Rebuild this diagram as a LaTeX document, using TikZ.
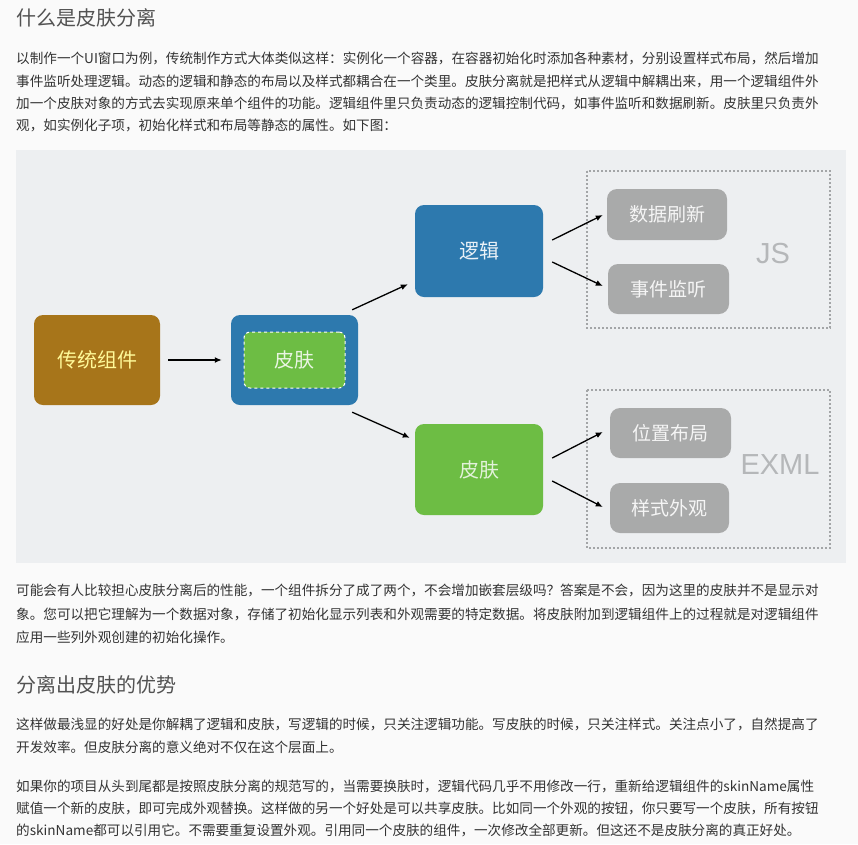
\documentclass[tikz,border=0pt]{standalone}
\usepackage{fontspec}
\setmainfont{Noto Sans CJK SC}
\newfontfamily\latinsans{Liberation Sans}
\usetikzlibrary{arrows.meta}

\definecolor{pagebg}{HTML}{FAFAFA}
\definecolor{figbg}{HTML}{EDEFF1}
\definecolor{txt}{HTML}{333333}
\definecolor{brown}{HTML}{A7751A}
\definecolor{skinblue}{HTML}{2D79AE}
\definecolor{skingreen}{HTML}{6DBD44}
\definecolor{itemgrey}{HTML}{A9AAAA}
\definecolor{framegrey}{HTML}{A3A5A7}

\tikzset{
  line/.style={anchor=west,text=txt,font=\fontsize{13.6}{16}\selectfont,inner sep=0pt},
  heading/.style={anchor=west,text=txt!85!white,font=\fontsize{20}{24}\selectfont,inner sep=0pt},
  block/.style={rounded corners=9pt,font=\fontsize{20}{24}\selectfont,inner sep=0pt},
  item/.style={rounded corners=10pt,fill=itemgrey,text=white!92!gray,font=\fontsize{19}{22}\selectfont,inner sep=0pt},
  tag/.style={text=framegrey!80!white,font=\latinsans\fontsize{29}{32}\selectfont},
  group/.style={draw=framegrey,dash pattern=on 2pt off 2pt,line width=1.6pt},
  link/.style={-{Latex[length=7pt,width=6pt]},line width=1.3pt,black}
}

\begin{document}
\begin{tikzpicture}[x=1pt,y=-1pt]
  \fill[pagebg] (0,0) rectangle (858,844);

  % top text
  \node[heading] (t1) at (16,18) {什么是皮肤分离};
  \node[line] (p1a) at (16,58) {以制作一个UI窗口为例，传统制作方式大体类似这样：实例化一个容器，在容器初始化时添加各种素材，分别设置样式布局，然后增加};
  \node[line] (p1b) at (16,81) {事件监听处理逻辑。动态的逻辑和静态的布局以及样式都耦合在一个类里。皮肤分离就是把样式从逻辑中解耦出来，用一个逻辑组件外};
  \node[line] (p1c) at (16,103) {加一个皮肤对象的方式去实现原来单个组件的功能。逻辑组件里只负责动态的逻辑控制代码，如事件监听和数据刷新。皮肤里只负责外};
  \node[line] (p1d) at (16,125) {观，如实例化子项，初始化样式和布局等静态的属性。如下图：};

  % figure
  \fill[figbg] (16,150) rectangle (846,563);

  \node[block,fill=brown,text=yellow!40!white,minimum width=126pt,minimum height=90pt] (old) at (97,360) {传统组件};
  \node[block,fill=skinblue,minimum width=127pt,minimum height=90pt] (skinbox) at (294.5,360) {};
  \node[block,fill=skingreen,draw=white,dashed,line width=1pt,rounded corners=6pt,text=white!85!skingreen,minimum width=101pt,minimum height=56pt] (skin) at (294.5,360) {皮肤};
  \node[block,fill=skinblue,text=white!90!skinblue,minimum width=128pt,minimum height=92pt] (logic) at (479,251) {逻辑};
  \node[block,fill=skingreen,text=white!80!skingreen,minimum width=128pt,minimum height=91pt] (view) at (479,469.5) {皮肤};

  \draw[group] (587,171) rectangle (830,328);
  \draw[group] (587,390) rectangle (830,548);
  \node[tag] (js) at (773,254) {JS};
  \node[tag] (exml) at (780,465) {EXML};

  \node[item,minimum width=120pt,minimum height=51pt] (data) at (667,214.5) {数据刷新};
  \node[item,minimum width=121pt,minimum height=50pt] (event) at (668.5,289) {事件监听};
  \node[item,minimum width=121pt,minimum height=50pt] (pos) at (670.5,433) {位置布局};
  \node[item,minimum width=119pt,minimum height=50pt] (style) at (669.5,508) {样式外观};

  \draw[link] (old.east) ++(8,0) -- ([xshift=-9pt]skinbox.west);
  \draw[link] ([shift={(-6,-5)}]skinbox.north east) -- ([shift={(-7,-13)}]logic.south west);
  \draw[link] ([shift={(-6,7)}]skinbox.south east) -- ([shift={(-5,14)}]view.north west);
  \draw[link] ([shift={(9,-11)}]logic.east) -- ([shift={(-4,0.5)}]data.west);
  \draw[link] ([shift={(9,11)}]logic.east) -- ([shift={(-5,-3)}]event.west);
  \draw[link] ([shift={(9,-11.5)}]view.east) -- ([shift={(-7,-1)}]pos.west);
  \draw[link] ([shift={(9,11.5)}]view.east) -- ([shift={(-7,-1)}]style.west);

  % bottom text
  \node[line] (p2a) at (16,590) {可能会有人比较担心皮肤分离后的性能，一个组件拆分了成了两个，不会增加嵌套层级吗？答案是不会，因为这里的皮肤并不是显示对};
  \node[line] (p2b) at (16,614) {象。您可以把它理解为一个数据对象，存储了初始化显示列表和外观需要的特定数据。将皮肤附加到逻辑组件上的过程就是对逻辑组件};
  \node[line] (p2c) at (16,637) {应用一些列外观创建的初始化操作。};
  \node[heading] (t2) at (16,685) {分离出皮肤的优势};
  \node[line] (p3a) at (16,724) {这样做最浅显的好处是你解耦了逻辑和皮肤，写逻辑的时候，只关注逻辑功能。写皮肤的时候，只关注样式。关注点小了，自然提高了};
  \node[line] (p3b) at (16,747) {开发效率。但皮肤分离的意义绝对不仅在这个层面上。};
  \node[line] (p4a) at (16,786) {如果你的项目从头到尾都是按照皮肤分离的规范写的，当需要换肤时，逻辑代码几乎不用修改一行，重新给逻辑组件的skinName属性};
  \node[line] (p4b) at (16,808) {赋值一个新的皮肤，即可完成外观替换。这样做的另一个好处是可以共享皮肤。比如同一个外观的按钮，你只要写一个皮肤，所有按钮};
  \node[line] (p4c) at (16,830) {的skinName都可以引用它。不需要重复设置外观。引用同一个皮肤的组件，一次修改全部更新。但这还不是皮肤分离的真正好处。};
\end{tikzpicture}
\end{document}
